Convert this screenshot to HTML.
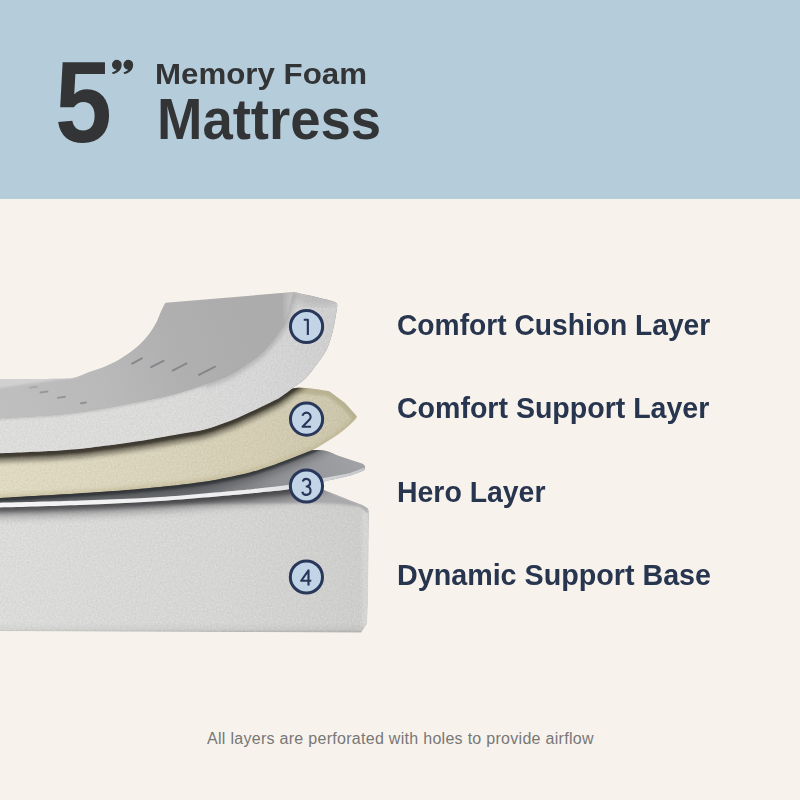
<!DOCTYPE html>
<html><head><meta charset="utf-8"><title>5" Memory Foam Mattress</title>
<style>
html,body{margin:0;padding:0}
body{width:800px;height:800px;position:relative;overflow:hidden;background:#f7f3ec;font-family:"Liberation Sans",sans-serif}
.hdr{position:absolute;left:0;top:0;width:800px;height:199px;background:#b5ccdb}
.t{position:absolute;white-space:nowrap;line-height:1;transform-origin:0 0}
.five{left:55px;top:44.7px;font-size:115px;font-weight:bold;color:#333436;transform:scaleX(0.89)}
.q{left:106.6px;top:54.8px;font-size:56px;font-weight:bold;color:#333436;transform:scale(1.1,0.8)}
.mf{left:155.4px;top:59px;font-size:29.5px;font-weight:bold;color:#333436;transform:scaleX(1.06)}
.mt{left:157px;top:90.5px;font-size:57px;font-weight:bold;color:#333436;transform:scaleX(0.956)}
.lb{left:396.5px;font-size:29px;font-weight:bold;color:#28354f}
.ft{left:207px;top:730.5px;font-size:16px;color:#777;letter-spacing:0.29px}
</style></head><body>
<div class="hdr"></div>
<div class="t five">5</div>
<div class="t mf">Memory Foam</div>
<div class="t mt">Mattress</div>
<svg width="800" height="800" viewBox="0 0 800 800" style="position:absolute;left:0;top:0">
<defs>
<filter id="noise" x="0" y="0" width="100%" height="100%" color-interpolation-filters="sRGB">
  <feTurbulence type="fractalNoise" baseFrequency="0.55" numOctaves="2" seed="3" result="n"/>
  <feColorMatrix in="n" type="matrix" values="1 0 0 0 0  1 0 0 0 0  1 0 0 0 0  0 0 0 0 1" result="g"/>
  <feComposite in="SourceGraphic" in2="g" operator="arithmetic" k1="0" k2="1" k3="0.09" k4="-0.045" result="m"/>
  <feComposite in="m" in2="SourceGraphic" operator="in"/>
</filter>
<filter id="b2"><feGaussianBlur stdDeviation="2"/></filter>
<filter id="b3"><feGaussianBlur stdDeviation="3.5"/></filter>
<filter id="b6" x="-50%" y="-50%" width="200%" height="200%"><feGaussianBlur stdDeviation="7"/></filter>
<filter id="b1"><feGaussianBlur stdDeviation="1"/></filter>
<linearGradient id="g4" x1="0" y1="0" x2="369" y2="0" gradientUnits="userSpaceOnUse">
  <stop offset="0" stop-color="#dbdbda"/><stop offset="0.3" stop-color="#d8d8d7"/><stop offset="0.6" stop-color="#d5d5d4"/><stop offset="0.9" stop-color="#cfcfce"/><stop offset="0.975" stop-color="#cdcdcc"/><stop offset="0.99" stop-color="#d6d6d5"/><stop offset="1" stop-color="#d2d2d1"/>
</linearGradient>
<linearGradient id="g4x" x1="0" y1="500" x2="0" y2="632" gradientUnits="userSpaceOnUse">
  <stop offset="0" stop-color="#000" stop-opacity="0.03"/><stop offset="0.08" stop-color="#000" stop-opacity="0"/><stop offset="0.93" stop-color="#000" stop-opacity="0"/><stop offset="0.98" stop-color="#000" stop-opacity="0.04"/><stop offset="1" stop-color="#000" stop-opacity="0.14"/>
</linearGradient>
<linearGradient id="g2" x1="0" y1="0" x2="360" y2="0" gradientUnits="userSpaceOnUse">
  <stop offset="0" stop-color="#dfd9c2"/><stop offset="0.17" stop-color="#ddd7c0"/><stop offset="0.45" stop-color="#d8d2ba"/><stop offset="0.7" stop-color="#d4cdb4"/><stop offset="0.93" stop-color="#ccc6ac"/><stop offset="1" stop-color="#c8c2a8"/>
</linearGradient>
<linearGradient id="g1top" x1="0" y1="410" x2="260" y2="310" gradientUnits="userSpaceOnUse">
  <stop offset="0" stop-color="#bfbfc0"/><stop offset="0.39" stop-color="#b9b9ba"/><stop offset="0.65" stop-color="#b0b0b1"/><stop offset="0.85" stop-color="#adadae"/><stop offset="1" stop-color="#acacad"/>
</linearGradient>
<linearGradient id="g1f" x1="0" y1="0" x2="340" y2="0" gradientUnits="userSpaceOnUse">
  <stop offset="0" stop-color="#dcdcdb"/><stop offset="0.5" stop-color="#dadad9"/><stop offset="0.75" stop-color="#d6d6d6"/><stop offset="0.9" stop-color="#d1d1d1"/><stop offset="1" stop-color="#cecece"/>
</linearGradient>
<linearGradient id="g3" x1="200" y1="500" x2="360" y2="455" gradientUnits="userSpaceOnUse">
  <stop offset="0" stop-color="#727376"/><stop offset="0.5" stop-color="#919295"/><stop offset="1" stop-color="#a1a2a5"/>
</linearGradient>
<linearGradient id="g3e" x1="0" y1="0" x2="366" y2="0" gradientUnits="userSpaceOnUse">
  <stop offset="0" stop-color="#f4f4f5"/><stop offset="0.7" stop-color="#eeeef0"/><stop offset="0.85" stop-color="#d6d7da"/><stop offset="1" stop-color="#c6c7ca"/>
</linearGradient>
<clipPath id="c2"><path d="M-5.0,445.0 C5.8,444.5 42.5,443.2 60.0,442.0 C77.5,440.8 83.3,440.0 100.0,438.0 C116.7,436.0 140.8,433.0 160.0,430.0 C179.2,427.0 197.5,425.0 215.0,420.0 C232.5,415.0 251.6,405.3 265.0,400.0 C278.4,394.7 284.9,389.5 295.5,388.0 C306.1,386.5 323.0,390.5 328.5,391.0 L328.5,391.0 L331.0,392.5 L345.0,403.0 L357.0,416.5 L357.0,416.5 C356.5,417.2 356.5,418.5 354.0,421.0 C351.5,423.5 346.0,428.4 342.0,431.5 C338.0,434.6 334.5,436.9 330.0,439.8 C325.5,442.6 320.0,446.2 315.0,448.8 C310.0,451.3 304.7,453.1 300.0,455.0 C295.3,456.9 292.0,458.1 287.0,460.0 C282.0,461.9 276.2,464.2 270.0,466.3 C263.8,468.4 257.5,470.6 250.0,472.5 C242.5,474.4 233.3,476.4 225.0,478.0 C216.7,479.6 210.8,480.8 200.0,482.3 C189.2,483.8 176.7,485.4 160.0,487.0 C143.3,488.6 127.5,490.1 100.0,492.0 C72.5,493.9 12.5,497.2 -5.0,498.2 Z"/></clipPath>
<clipPath id="c3"><path d="M-5.0,480.0 C22.5,478.3 112.5,474.2 160.0,470.0 C207.5,465.8 253.5,458.3 280.0,455.0 C306.5,451.7 308.8,449.8 318.8,450.0 C328.8,450.2 334.0,454.4 340.0,456.2 C346.0,458.1 351.2,460.0 355.0,461.2 C358.8,462.5 360.8,462.9 362.5,463.8 C364.2,464.6 364.6,465.8 365.0,466.2 L365.0,466.2 C364.9,466.9 365.6,468.9 364.4,470.0 C363.1,471.1 359.9,472.1 357.5,473.0 C355.1,473.9 352.9,474.8 350.0,475.6 C347.1,476.4 344.2,477.1 340.0,478.0 C335.8,478.9 333.3,479.4 325.0,481.2 C316.7,483.1 300.8,487.1 290.0,489.0 C279.2,490.9 268.3,491.5 260.0,492.4 C251.7,493.3 256.7,493.1 240.0,494.5 C223.3,495.9 186.7,499.2 160.0,501.0 C133.3,502.8 107.5,503.9 80.0,505.0 C52.5,506.1 9.2,507.2 -5.0,507.6 Z"/></clipPath>
<clipPath id="c4"><path d="M-5,495 L160,490 L250,485 L323.75,490 L340,496.25 L352.5,501.25 L362.5,505 L367.5,508 Q369,509.5 369,514 L368,600 L367,624 L361,632.5 L-5,631 Z"/></clipPath>
<clipPath id="c1"><path d="M-5.0,379.0 C5.8,379.0 46.4,379.1 60.0,378.8 C73.6,378.5 71.5,378.2 76.5,377.0 C81.5,375.8 85.2,373.5 90.0,371.8 C94.8,370.0 100.0,368.6 105.0,366.5 C110.0,364.4 115.0,362.0 120.0,359.0 C125.0,356.0 130.5,352.2 135.0,348.5 C139.5,344.8 143.5,340.8 147.0,336.5 C150.5,332.2 153.8,327.0 156.0,323.0 C158.2,319.0 159.0,315.8 160.5,312.5 C162.0,309.2 164.2,304.8 165.0,303.2 L165.8,302.7 L293.5,292.0 L293.5,292.0 C295.6,292.5 301.9,293.9 306.0,294.8 C310.1,295.7 314.2,296.6 318.0,297.5 C321.8,298.4 326.1,299.4 329.0,300.2 C331.9,301.0 333.9,301.6 335.3,302.3 C336.7,303.0 336.9,303.5 337.2,304.6 C337.5,305.7 337.1,307.1 336.9,309.0 C336.7,310.9 336.5,312.1 335.8,316.0 C335.1,319.9 334.1,326.8 332.5,332.5 C330.9,338.2 329.5,344.2 326.5,350.0 C323.5,355.8 318.2,362.5 314.5,367.5 C310.8,372.5 308.1,376.0 304.0,379.8 C299.9,383.5 294.0,387.3 290.0,390.2 C286.0,393.2 282.9,395.6 280.0,397.5 C277.1,399.4 276.7,399.4 272.5,401.5 C268.3,403.6 262.1,406.8 255.0,410.0 C247.9,413.2 238.3,417.8 230.0,421.0 C221.7,424.2 213.3,427.3 205.0,429.5 C196.7,431.7 187.5,432.7 180.0,434.0 C172.5,435.3 166.7,436.3 160.0,437.5 C153.3,438.7 150.0,439.5 140.0,441.0 C130.0,442.5 113.3,444.9 100.0,446.5 C86.7,448.1 77.5,449.3 60.0,450.5 C42.5,451.7 5.8,453.0 -5.0,453.5 Z"/></clipPath>
<clipPath id="c1f"><path d="M293.5,292.0 C292.9,294.3 291.4,300.8 290.0,306.0 C288.6,311.2 287.7,317.5 285.0,323.0 C282.3,328.5 277.5,334.4 274.0,339.0 C270.5,343.6 267.2,347.2 264.0,350.5 C260.8,353.8 258.5,355.8 255.0,358.5 C251.5,361.2 247.2,363.8 243.0,366.5 C238.8,369.2 236.3,371.5 230.0,374.5 C223.7,377.5 213.3,381.5 205.0,384.5 C196.7,387.5 186.7,390.5 180.0,392.5 C173.3,394.5 172.5,394.8 165.0,396.5 C157.5,398.2 145.8,400.4 135.0,402.5 C124.2,404.6 112.5,407.0 100.0,409.0 C87.5,411.0 77.5,412.9 60.0,414.5 C42.5,416.1 5.8,417.8 -5.0,418.5 L-5.0,453.5 C5.8,453.0 42.5,451.7 60.0,450.5 C77.5,449.3 86.7,448.1 100.0,446.5 C113.3,444.9 130.0,442.5 140.0,441.0 C150.0,439.5 153.3,438.7 160.0,437.5 C166.7,436.3 172.5,435.3 180.0,434.0 C187.5,432.7 196.7,431.7 205.0,429.5 C213.3,427.3 221.7,424.2 230.0,421.0 C238.3,417.8 247.9,413.2 255.0,410.0 C262.1,406.8 268.3,403.6 272.5,401.5 C276.7,399.4 277.1,399.4 280.0,397.5 C282.9,395.6 286.0,393.2 290.0,390.2 C294.0,387.3 299.9,383.5 304.0,379.8 C308.1,376.0 310.8,372.5 314.5,367.5 C318.2,362.5 323.5,355.8 326.5,350.0 C329.5,344.2 330.9,338.2 332.5,332.5 C334.1,326.8 335.1,319.9 335.8,316.0 C336.5,312.1 336.7,310.9 336.9,309.0 C337.1,307.1 337.5,305.7 337.2,304.6 C336.9,303.5 336.7,303.0 335.3,302.3 C333.9,301.6 331.9,301.0 329.0,300.2 C326.1,299.4 321.8,298.4 318.0,297.5 C314.2,296.6 310.1,295.7 306.0,294.8 C301.9,293.9 295.6,292.5 293.5,292.0 Z"/></clipPath>
</defs>

<path id="qm" d="M4.85,0 C4.85,5 1.2,8.6 -4.2,9.3 L-4.7,7.5 C-2.1,6.9 -0.5,5.7 -0.3,4.75 A4.85,4.85 0 1 1 4.85,0 Z" fill="#333436" transform="translate(116.8,64.8)"/>
<path d="M4.85,0 C4.85,5 1.2,8.6 -4.2,9.3 L-4.7,7.5 C-2.1,6.9 -0.5,5.7 -0.3,4.75 A4.85,4.85 0 1 1 4.85,0 Z" fill="#333436" transform="translate(128.3,64.8)"/>
<!-- layer 4 base -->
<path d="M-5,495 L160,490 L250,485 L323.75,490 L340,496.25 L352.5,501.25 L362.5,505 L367.5,508 Q369,509.5 369,514 L368,600 L367,624 L361,632.5 L-5,631 Z" fill="url(#g4)" filter="url(#noise)"/>
<path d="M-5,495 L160,490 L250,485 L323.75,490 L340,496.25 L352.5,501.25 L362.5,505 L367.5,508 Q369,509.5 369,514 L368,600 L367,624 L361,632.5 L-5,631 Z" fill="url(#g4x)"/>
<g clip-path="url(#c4)"><path d="M60,495 L160,490 L250,485 L323.75,490 L340,496.25 L352.5,501.25 L362.5,505 L367.5,508 L369,514 L360,506.5 L340,504 L320,503.3 L250,503.5 L160,504 L60,505.5 Z" fill="#a9a9ab" filter="url(#b1)"/>
<path d="M-5.0,480.0 C22.5,478.3 112.5,474.2 160.0,470.0 C207.5,465.8 253.5,458.3 280.0,455.0 C306.5,451.7 308.8,449.8 318.8,450.0 C328.8,450.2 334.0,454.4 340.0,456.2 C346.0,458.1 351.2,460.0 355.0,461.2 C358.8,462.5 360.8,462.9 362.5,463.8 C364.2,464.6 364.6,465.8 365.0,466.2 L365.0,466.2 C364.9,466.9 365.6,468.9 364.4,470.0 C363.1,471.1 359.9,472.1 357.5,473.0 C355.1,473.9 352.9,474.8 350.0,475.6 C347.1,476.4 344.2,477.1 340.0,478.0 C335.8,478.9 333.3,479.4 325.0,481.2 C316.7,483.1 300.8,487.1 290.0,489.0 C279.2,490.9 268.3,491.5 260.0,492.4 C251.7,493.3 256.7,493.1 240.0,494.5 C223.3,495.9 186.7,499.2 160.0,501.0 C133.3,502.8 107.5,503.9 80.0,505.0 C52.5,506.1 9.2,507.2 -5.0,507.6 Z" fill="#303135" opacity="0.7" filter="url(#b2)" transform="translate(0,5)"/>
<path d="M-5.0,480.0 C22.5,478.3 112.5,474.2 160.0,470.0 C207.5,465.8 253.5,458.3 280.0,455.0 C306.5,451.7 308.8,449.8 318.8,450.0 C328.8,450.2 334.0,454.4 340.0,456.2 C346.0,458.1 351.2,460.0 355.0,461.2 C358.8,462.5 360.8,462.9 362.5,463.8 C364.2,464.6 364.6,465.8 365.0,466.2 L365.0,466.2 C364.9,466.9 365.6,468.9 364.4,470.0 C363.1,471.1 359.9,472.1 357.5,473.0 C355.1,473.9 352.9,474.8 350.0,475.6 C347.1,476.4 344.2,477.1 340.0,478.0 C335.8,478.9 333.3,479.4 325.0,481.2 C316.7,483.1 300.8,487.1 290.0,489.0 C279.2,490.9 268.3,491.5 260.0,492.4 C251.7,493.3 256.7,493.1 240.0,494.5 C223.3,495.9 186.7,499.2 160.0,501.0 C133.3,502.8 107.5,503.9 80.0,505.0 C52.5,506.1 9.2,507.2 -5.0,507.6 Z" fill="#303135" opacity="0.3" filter="url(#b3)" transform="translate(0,11)"/></g>

<!-- layer 3 sheet -->
<path d="M-5.0,480.0 C22.5,478.3 112.5,474.2 160.0,470.0 C207.5,465.8 253.5,458.3 280.0,455.0 C306.5,451.7 308.8,449.8 318.8,450.0 C328.8,450.2 334.0,454.4 340.0,456.2 C346.0,458.1 351.2,460.0 355.0,461.2 C358.8,462.5 360.8,462.9 362.5,463.8 C364.2,464.6 364.6,465.8 365.0,466.2 L365.0,466.2 C364.9,466.9 365.6,468.9 364.4,470.0 C363.1,471.1 359.9,472.1 357.5,473.0 C355.1,473.9 352.9,474.8 350.0,475.6 C347.1,476.4 344.2,477.1 340.0,478.0 C335.8,478.9 333.3,479.4 325.0,481.2 C316.7,483.1 300.8,487.1 290.0,489.0 C279.2,490.9 268.3,491.5 260.0,492.4 C251.7,493.3 256.7,493.1 240.0,494.5 C223.3,495.9 186.7,499.2 160.0,501.0 C133.3,502.8 107.5,503.9 80.0,505.0 C52.5,506.1 9.2,507.2 -5.0,507.6 Z" fill="url(#g3)"/>
<g clip-path="url(#c3)"><path d="M-5.0,445.0 C5.8,444.5 42.5,443.2 60.0,442.0 C77.5,440.8 83.3,440.0 100.0,438.0 C116.7,436.0 140.8,433.0 160.0,430.0 C179.2,427.0 197.5,425.0 215.0,420.0 C232.5,415.0 251.6,405.3 265.0,400.0 C278.4,394.7 284.9,389.5 295.5,388.0 C306.1,386.5 323.0,390.5 328.5,391.0 L328.5,391.0 L331.0,392.5 L345.0,403.0 L357.0,416.5 L357.0,416.5 C356.5,417.2 356.5,418.5 354.0,421.0 C351.5,423.5 346.0,428.4 342.0,431.5 C338.0,434.6 334.5,436.9 330.0,439.8 C325.5,442.6 320.0,446.2 315.0,448.8 C310.0,451.3 304.7,453.1 300.0,455.0 C295.3,456.9 292.0,458.1 287.0,460.0 C282.0,461.9 276.2,464.2 270.0,466.3 C263.8,468.4 257.5,470.6 250.0,472.5 C242.5,474.4 233.3,476.4 225.0,478.0 C216.7,479.6 210.8,480.8 200.0,482.3 C189.2,483.8 176.7,485.4 160.0,487.0 C143.3,488.6 127.5,490.1 100.0,492.0 C72.5,493.9 12.5,497.2 -5.0,498.2 Z" fill="#2b2d31" opacity="0.8" filter="url(#b1)" transform="translate(0,3.5)"/>
<path d="M-5.0,445.0 C5.8,444.5 42.5,443.2 60.0,442.0 C77.5,440.8 83.3,440.0 100.0,438.0 C116.7,436.0 140.8,433.0 160.0,430.0 C179.2,427.0 197.5,425.0 215.0,420.0 C232.5,415.0 251.6,405.3 265.0,400.0 C278.4,394.7 284.9,389.5 295.5,388.0 C306.1,386.5 323.0,390.5 328.5,391.0 L328.5,391.0 L331.0,392.5 L345.0,403.0 L357.0,416.5 L357.0,416.5 C356.5,417.2 356.5,418.5 354.0,421.0 C351.5,423.5 346.0,428.4 342.0,431.5 C338.0,434.6 334.5,436.9 330.0,439.8 C325.5,442.6 320.0,446.2 315.0,448.8 C310.0,451.3 304.7,453.1 300.0,455.0 C295.3,456.9 292.0,458.1 287.0,460.0 C282.0,461.9 276.2,464.2 270.0,466.3 C263.8,468.4 257.5,470.6 250.0,472.5 C242.5,474.4 233.3,476.4 225.0,478.0 C216.7,479.6 210.8,480.8 200.0,482.3 C189.2,483.8 176.7,485.4 160.0,487.0 C143.3,488.6 127.5,490.1 100.0,492.0 C72.5,493.9 12.5,497.2 -5.0,498.2 Z" fill="#2b2d31" opacity="0.35" filter="url(#b3)" transform="translate(2,8)"/></g>
<path d="M364.5,467.5 C363.3,468.0 359.9,469.4 357.5,470.3 C355.1,471.2 352.9,472.1 350.0,472.9 C347.1,473.7 344.2,474.2 340.0,475.0 C335.8,475.8 333.3,476.2 325.0,477.8 C316.7,479.4 300.8,483.1 290.0,484.8 C279.2,486.5 268.3,487.3 260.0,488.2 C251.7,489.1 256.7,488.7 240.0,490.2 C223.3,491.7 186.7,495.3 160.0,497.0 C133.3,498.7 107.5,499.6 80.0,500.6 C52.5,501.6 9.2,502.5 -5.0,502.9 L-5.0,507.6 C9.2,507.2 52.5,506.1 80.0,505.0 C107.5,503.9 133.3,502.8 160.0,501.0 C186.7,499.2 223.3,495.9 240.0,494.5 C256.7,493.1 251.7,493.3 260.0,492.4 C268.3,491.5 279.2,490.9 290.0,489.0 C300.8,487.1 316.7,483.1 325.0,481.2 C333.3,479.4 335.8,478.9 340.0,478.0 C344.2,477.1 347.1,476.4 350.0,475.6 C352.9,474.8 355.1,473.9 357.5,473.0 C359.9,472.1 363.2,470.5 364.4,470.0 Z" fill="url(#g3e)"/>

<!-- layer 2 cream -->
<path d="M-5.0,445.0 C5.8,444.5 42.5,443.2 60.0,442.0 C77.5,440.8 83.3,440.0 100.0,438.0 C116.7,436.0 140.8,433.0 160.0,430.0 C179.2,427.0 197.5,425.0 215.0,420.0 C232.5,415.0 251.6,405.3 265.0,400.0 C278.4,394.7 284.9,389.5 295.5,388.0 C306.1,386.5 323.0,390.5 328.5,391.0 L328.5,391.0 L331.0,392.5 L345.0,403.0 L357.0,416.5 L357.0,416.5 C356.5,417.2 356.5,418.5 354.0,421.0 C351.5,423.5 346.0,428.4 342.0,431.5 C338.0,434.6 334.5,436.9 330.0,439.8 C325.5,442.6 320.0,446.2 315.0,448.8 C310.0,451.3 304.7,453.1 300.0,455.0 C295.3,456.9 292.0,458.1 287.0,460.0 C282.0,461.9 276.2,464.2 270.0,466.3 C263.8,468.4 257.5,470.6 250.0,472.5 C242.5,474.4 233.3,476.4 225.0,478.0 C216.7,479.6 210.8,480.8 200.0,482.3 C189.2,483.8 176.7,485.4 160.0,487.0 C143.3,488.6 127.5,490.1 100.0,492.0 C72.5,493.9 12.5,497.2 -5.0,498.2 Z" fill="url(#g2)" filter="url(#noise)"/>
<g clip-path="url(#c2)">
<path d="M285.0,391.0 L295.5,388.0 L328.5,391.0 L331.0,392.5 L345.0,403.0 L357.0,416.5" fill="none" stroke="#b5ad8c" stroke-width="10" opacity="0.8" filter="url(#b1)"/>
<path d="M-5.0,379.0 C5.8,379.0 46.4,379.1 60.0,378.8 C73.6,378.5 71.5,378.2 76.5,377.0 C81.5,375.8 85.2,373.5 90.0,371.8 C94.8,370.0 100.0,368.6 105.0,366.5 C110.0,364.4 115.0,362.0 120.0,359.0 C125.0,356.0 130.5,352.2 135.0,348.5 C139.5,344.8 143.5,340.8 147.0,336.5 C150.5,332.2 153.8,327.0 156.0,323.0 C158.2,319.0 159.0,315.8 160.5,312.5 C162.0,309.2 164.2,304.8 165.0,303.2 L165.8,302.7 L293.5,292.0 L293.5,292.0 C295.6,292.5 301.9,293.9 306.0,294.8 C310.1,295.7 314.2,296.6 318.0,297.5 C321.8,298.4 326.1,299.4 329.0,300.2 C331.9,301.0 333.9,301.6 335.3,302.3 C336.7,303.0 336.9,303.5 337.2,304.6 C337.5,305.7 337.1,307.1 336.9,309.0 C336.7,310.9 336.5,312.1 335.8,316.0 C335.1,319.9 334.1,326.8 332.5,332.5 C330.9,338.2 329.5,344.2 326.5,350.0 C323.5,355.8 318.2,362.5 314.5,367.5 C310.8,372.5 308.1,376.0 304.0,379.8 C299.9,383.5 294.0,387.3 290.0,390.2 C286.0,393.2 282.9,395.6 280.0,397.5 C277.1,399.4 276.7,399.4 272.5,401.5 C268.3,403.6 262.1,406.8 255.0,410.0 C247.9,413.2 238.3,417.8 230.0,421.0 C221.7,424.2 213.3,427.3 205.0,429.5 C196.7,431.7 187.5,432.7 180.0,434.0 C172.5,435.3 166.7,436.3 160.0,437.5 C153.3,438.7 150.0,439.5 140.0,441.0 C130.0,442.5 113.3,444.9 100.0,446.5 C86.7,448.1 77.5,449.3 60.0,450.5 C42.5,451.7 5.8,453.0 -5.0,453.5 Z" fill="#2e2b22" opacity="0.5" filter="url(#b2)" transform="translate(0,9)"/>
<path d="M-5.0,379.0 C5.8,379.0 46.4,379.1 60.0,378.8 C73.6,378.5 71.5,378.2 76.5,377.0 C81.5,375.8 85.2,373.5 90.0,371.8 C94.8,370.0 100.0,368.6 105.0,366.5 C110.0,364.4 115.0,362.0 120.0,359.0 C125.0,356.0 130.5,352.2 135.0,348.5 C139.5,344.8 143.5,340.8 147.0,336.5 C150.5,332.2 153.8,327.0 156.0,323.0 C158.2,319.0 159.0,315.8 160.5,312.5 C162.0,309.2 164.2,304.8 165.0,303.2 L165.8,302.7 L293.5,292.0 L293.5,292.0 C295.6,292.5 301.9,293.9 306.0,294.8 C310.1,295.7 314.2,296.6 318.0,297.5 C321.8,298.4 326.1,299.4 329.0,300.2 C331.9,301.0 333.9,301.6 335.3,302.3 C336.7,303.0 336.9,303.5 337.2,304.6 C337.5,305.7 337.1,307.1 336.9,309.0 C336.7,310.9 336.5,312.1 335.8,316.0 C335.1,319.9 334.1,326.8 332.5,332.5 C330.9,338.2 329.5,344.2 326.5,350.0 C323.5,355.8 318.2,362.5 314.5,367.5 C310.8,372.5 308.1,376.0 304.0,379.8 C299.9,383.5 294.0,387.3 290.0,390.2 C286.0,393.2 282.9,395.6 280.0,397.5 C277.1,399.4 276.7,399.4 272.5,401.5 C268.3,403.6 262.1,406.8 255.0,410.0 C247.9,413.2 238.3,417.8 230.0,421.0 C221.7,424.2 213.3,427.3 205.0,429.5 C196.7,431.7 187.5,432.7 180.0,434.0 C172.5,435.3 166.7,436.3 160.0,437.5 C153.3,438.7 150.0,439.5 140.0,441.0 C130.0,442.5 113.3,444.9 100.0,446.5 C86.7,448.1 77.5,449.3 60.0,450.5 C42.5,451.7 5.8,453.0 -5.0,453.5 Z" fill="#2e2b22" opacity="0.8" filter="url(#b1)" transform="translate(0,4.5)"/>
<path d="M357.0,416.5 L354.0,421.0 L342.0,431.5 L330.0,439.8 L315.0,448.8 L300.0,455.0 L287.0,460.0 L270.0,466.3 L250.0,472.5 L225.0,478.0 L200.0,482.3 L160.0,487.0 L100.0,492.0 L-5.0,498.2" fill="none" stroke="#b5a97f" stroke-width="5" opacity="0.5" filter="url(#b2)"/></g>

<!-- layer 1 -->
<path d="M-5.0,379.0 C5.8,379.0 46.4,379.1 60.0,378.8 C73.6,378.5 71.5,378.2 76.5,377.0 C81.5,375.8 85.2,373.5 90.0,371.8 C94.8,370.0 100.0,368.6 105.0,366.5 C110.0,364.4 115.0,362.0 120.0,359.0 C125.0,356.0 130.5,352.2 135.0,348.5 C139.5,344.8 143.5,340.8 147.0,336.5 C150.5,332.2 153.8,327.0 156.0,323.0 C158.2,319.0 159.0,315.8 160.5,312.5 C162.0,309.2 164.2,304.8 165.0,303.2 L165.8,302.7 L293.5,292.0 L293.5,292.0 C295.6,292.5 301.9,293.9 306.0,294.8 C310.1,295.7 314.2,296.6 318.0,297.5 C321.8,298.4 326.1,299.4 329.0,300.2 C331.9,301.0 333.9,301.6 335.3,302.3 C336.7,303.0 336.9,303.5 337.2,304.6 C337.5,305.7 337.1,307.1 336.9,309.0 C336.7,310.9 336.5,312.1 335.8,316.0 C335.1,319.9 334.1,326.8 332.5,332.5 C330.9,338.2 329.5,344.2 326.5,350.0 C323.5,355.8 318.2,362.5 314.5,367.5 C310.8,372.5 308.1,376.0 304.0,379.8 C299.9,383.5 294.0,387.3 290.0,390.2 C286.0,393.2 282.9,395.6 280.0,397.5 C277.1,399.4 276.7,399.4 272.5,401.5 C268.3,403.6 262.1,406.8 255.0,410.0 C247.9,413.2 238.3,417.8 230.0,421.0 C221.7,424.2 213.3,427.3 205.0,429.5 C196.7,431.7 187.5,432.7 180.0,434.0 C172.5,435.3 166.7,436.3 160.0,437.5 C153.3,438.7 150.0,439.5 140.0,441.0 C130.0,442.5 113.3,444.9 100.0,446.5 C86.7,448.1 77.5,449.3 60.0,450.5 C42.5,451.7 5.8,453.0 -5.0,453.5 Z" fill="url(#g1top)"/>
<g clip-path="url(#c1)"><path d="M-5,372 L60,372 L80,376.5 L-5,388.5 Z" fill="#d1d1d2" filter="url(#b1)"/></g>
<g clip-path="url(#c1)"><ellipse cx="292" cy="306" rx="7" ry="22" fill="#d6d6d7" opacity="0.55" filter="url(#b3)"/></g>
<line x1="131.5" y1="361.0" x2="142.5" y2="361.0" stroke="#7b7d82" stroke-width="2" stroke-linecap="round" opacity="0.80" transform="rotate(-28 137.0 361.0)"/><line x1="150.3" y1="364.0" x2="164.3" y2="364.0" stroke="#7b7d82" stroke-width="2" stroke-linecap="round" opacity="0.80" transform="rotate(-27 157.3 364.0)"/><line x1="171.8" y1="367.0" x2="187.4" y2="367.0" stroke="#7b7d82" stroke-width="2" stroke-linecap="round" opacity="0.80" transform="rotate(-27 179.6 367.0)"/><line x1="198.0" y1="370.8" x2="216.0" y2="370.8" stroke="#7b7d82" stroke-width="2" stroke-linecap="round" opacity="0.80" transform="rotate(-27 207.0 370.8)"/><line x1="30.0" y1="387.3" x2="37.0" y2="387.3" stroke="#7b7d82" stroke-width="2" stroke-linecap="round" opacity="0.30" transform="rotate(-8 33.5 387.3)"/><line x1="40.5" y1="392.0" x2="47.5" y2="392.0" stroke="#7b7d82" stroke-width="2" stroke-linecap="round" opacity="0.55" transform="rotate(-8 44.0 392.0)"/><line x1="58.0" y1="397.3" x2="65.0" y2="397.3" stroke="#7b7d82" stroke-width="2" stroke-linecap="round" opacity="0.60" transform="rotate(-8 61.5 397.3)"/><line x1="81.0" y1="402.8" x2="86.0" y2="402.8" stroke="#7b7d82" stroke-width="2" stroke-linecap="round" opacity="0.65" transform="rotate(-8 83.5 402.8)"/>
<path d="M293.5,292.0 C292.9,294.3 291.4,300.8 290.0,306.0 C288.6,311.2 287.7,317.5 285.0,323.0 C282.3,328.5 277.5,334.4 274.0,339.0 C270.5,343.6 267.2,347.2 264.0,350.5 C260.8,353.8 258.5,355.8 255.0,358.5 C251.5,361.2 247.2,363.8 243.0,366.5 C238.8,369.2 236.3,371.5 230.0,374.5 C223.7,377.5 213.3,381.5 205.0,384.5 C196.7,387.5 186.7,390.5 180.0,392.5 C173.3,394.5 172.5,394.8 165.0,396.5 C157.5,398.2 145.8,400.4 135.0,402.5 C124.2,404.6 112.5,407.0 100.0,409.0 C87.5,411.0 77.5,412.9 60.0,414.5 C42.5,416.1 5.8,417.8 -5.0,418.5 L-5.0,453.5 C5.8,453.0 42.5,451.7 60.0,450.5 C77.5,449.3 86.7,448.1 100.0,446.5 C113.3,444.9 130.0,442.5 140.0,441.0 C150.0,439.5 153.3,438.7 160.0,437.5 C166.7,436.3 172.5,435.3 180.0,434.0 C187.5,432.7 196.7,431.7 205.0,429.5 C213.3,427.3 221.7,424.2 230.0,421.0 C238.3,417.8 247.9,413.2 255.0,410.0 C262.1,406.8 268.3,403.6 272.5,401.5 C276.7,399.4 277.1,399.4 280.0,397.5 C282.9,395.6 286.0,393.2 290.0,390.2 C294.0,387.3 299.9,383.5 304.0,379.8 C308.1,376.0 310.8,372.5 314.5,367.5 C318.2,362.5 323.5,355.8 326.5,350.0 C329.5,344.2 330.9,338.2 332.5,332.5 C334.1,326.8 335.1,319.9 335.8,316.0 C336.5,312.1 336.7,310.9 336.9,309.0 C337.1,307.1 337.5,305.7 337.2,304.6 C336.9,303.5 336.7,303.0 335.3,302.3 C333.9,301.6 331.9,301.0 329.0,300.2 C326.1,299.4 321.8,298.4 318.0,297.5 C314.2,296.6 310.1,295.7 306.0,294.8 C301.9,293.9 295.6,292.5 293.5,292.0 Z" fill="url(#g1f)" filter="url(#noise)"/>
<g clip-path="url(#c1f)"><path d="M293.5,292.0 L290.0,306.0 L285.0,323.0 L274.0,339.0 L264.0,350.5 L255.0,358.5 L243.0,366.5 L230.0,374.5 L205.0,384.5" fill="none" stroke="#9a9a9b" stroke-width="7" opacity="0.55" filter="url(#b2)"/>
<path d="M205.0,384.5 L180.0,392.5 L165.0,396.5 L135.0,402.5 L100.0,409.0 L60.0,414.5 L-5.0,418.5" fill="none" stroke="#b0b0b1" stroke-width="3" opacity="0.6" filter="url(#b1)"/>
<ellipse cx="318" cy="296" rx="26" ry="10" fill="#8e8e90" opacity="0.3" filter="url(#b3)"/></g>

<circle cx="306.55" cy="326.50" r="16.1" fill="#c1d5e6" stroke="#29375a" stroke-width="3"/><path d="M-2.8,-7.1 L1.3,-7.1 L1.3,8.2" transform="translate(306.55,326.90)" fill="none" stroke="#29375a" stroke-width="2.15" stroke-linejoin="round" stroke-linecap="butt"/>
<circle cx="306.55" cy="419.10" r="16.1" fill="#c1d5e6" stroke="#29375a" stroke-width="3"/><path d="M-4.1,-3.7 A4.15,4.15 0 1 1 3.0,0.1 L-4.0,7.25 L4.5,7.25" transform="translate(306.55,419.50)" fill="none" stroke="#29375a" stroke-width="2.15" stroke-linejoin="round" stroke-linecap="butt"/>
<circle cx="306.45" cy="486.00" r="16.1" fill="#c1d5e6" stroke="#29375a" stroke-width="3"/><path d="M-3.7,-4.9 A3.8,3.8 0 1 1 0.2,0.1 A4.2,4.2 0 1 1 -4.2,5.4" transform="translate(306.45,486.40)" fill="none" stroke="#29375a" stroke-width="2.15" stroke-linejoin="round" stroke-linecap="butt"/>
<circle cx="306.40" cy="577.00" r="16.1" fill="#c1d5e6" stroke="#29375a" stroke-width="3"/><path d="M2.1,8.2 L2.1,-7.0 L-5.2,3.35 L4.9,3.35" transform="translate(306.40,577.40)" fill="none" stroke="#29375a" stroke-width="2.15" stroke-linejoin="round" stroke-linecap="butt"/>
</svg>
<div class="t lb" style="top:311px;transform:scaleX(0.972)">Comfort Cushion Layer</div>
<div class="t lb" style="top:393.5px;transform:scaleX(0.984)">Comfort Support Layer</div>
<div class="t lb" style="top:477.5px;transform:scaleX(0.98)">Hero Layer</div>
<div class="t lb" style="top:560.5px;transform:scaleX(0.989)">Dynamic Support Base</div>
<div class="t ft">All layers are perforated with holes to provide airflow</div>
</body></html>
